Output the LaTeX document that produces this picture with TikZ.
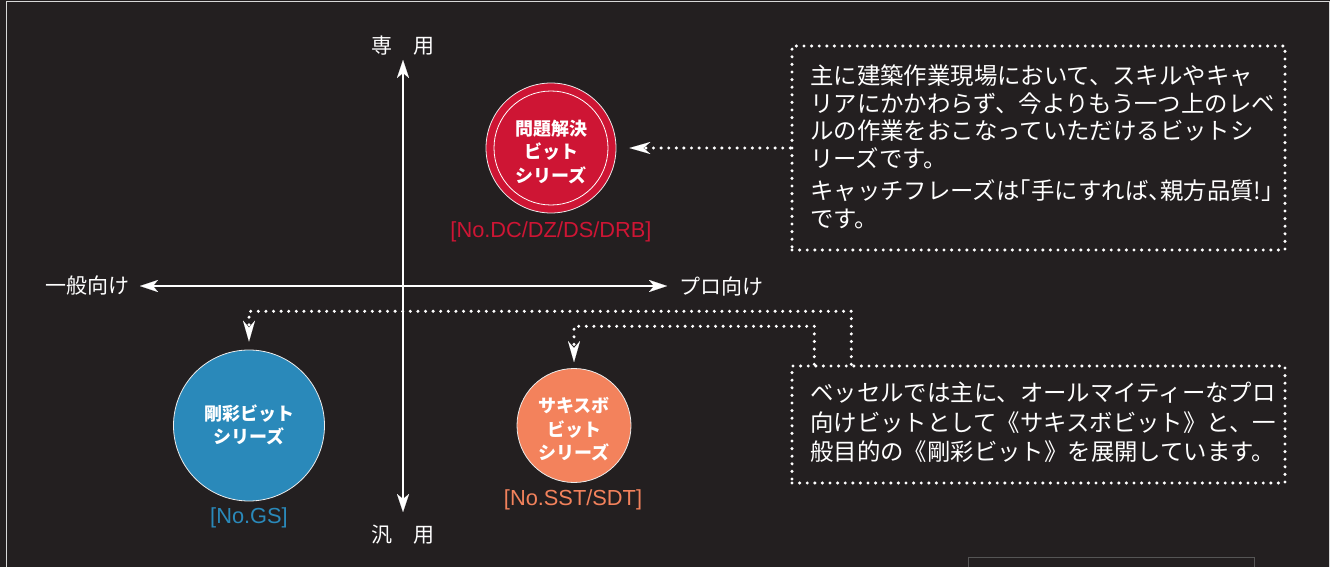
\documentclass[tikz,border=0pt]{standalone}
\usepackage{fontspec}
\setmainfont{Noto Sans CJK JP}
\newfontfamily\latf{Liberation Sans}
\usetikzlibrary{arrows.meta}
\definecolor{bg}{HTML}{231F20}
\definecolor{frame}{HTML}{D8D8D8}
\definecolor{rred}{HTML}{CE1534}
\definecolor{rblue}{HTML}{2A89BA}
\definecolor{rorange}{HTML}{F3825C}
\definecolor{boxgray}{HTML}{555555}
\newcommand{\hw}[1]{{\addfontfeatures{RawFeature=+halt}#1}}
\begin{document}
\begin{tikzpicture}[x=1pt,y=-1pt,
  dots/.style={draw=white, line width=3.4pt, line cap=round, dash pattern=on 0pt off 7.6pt},
  dotarrow/.style={dots, -{Stealth[length=21pt,width=12pt,inset=7pt,line width=0.1pt]}},
  axisline/.style={draw=white, line width=1.1pt, {Stealth[length=18pt,width=12pt,inset=5pt,line width=0.1pt]}-{Stealth[length=18pt,width=12pt,inset=5pt,line width=0.1pt]}},
  disc/.style={circle, inner sep=0pt, draw=white!85!gray, line width=0.8pt},
  disctext/.style={text=white, align=center, inner sep=0pt, font=\fontsize{18}{23.5}\selectfont\bfseries},
  code/.style={inner sep=0pt, font=\latf\fontsize{21.8}{24}\selectfont},
  axlabel/.style={text=white, inner sep=0pt, font=\fontsize{21}{24}\selectfont},
  notebox/.style={dots, rectangle, inner sep=0pt},
  notetext/.style={text=white, align=left, inner sep=0pt, anchor=west}
]
\useasboundingbox (0,0) rectangle (1330,567);
\fill[bg] (0,0) rectangle (1330,567);
\draw[frame, line width=1pt] (6,570) -- (6,2) -- (1329,2) -- (1329,570);
\draw[boxgray, line width=1pt] (968,557) rectangle (1254,580);

% axes
\coordinate (vtop) at (403,60);
\coordinate (vbot) at (403,512);
\coordinate (hl) at (140,286);
\coordinate (hr) at (667,286);
\draw[axisline] (vtop) -- (vbot);
\draw[axisline] (hl) -- (hr);
\node[axlabel] (ltop) at (403,46) {専　用};
\node[axlabel] (lbot) at (403,535) {汎　用};
\node[axlabel, anchor=east] (lleft) at (130,286) {一般向け};
\node[axlabel, anchor=west] (lright) at (679,286) {プロ向け};

% circles
\node[disc, fill=rred, minimum size=130pt] (red) at (551,148) {};
\node[circle, inner sep=0pt, draw=white, line width=0.8pt, minimum size=114pt] (redring) at (551,148) {};
\node[disctext] (redtxt) at (551,152) {問題解決\\ビット\\シリーズ};
\node[code, text=rred] (redlab) at (551,232) {[No.DC/DZ/DS/DRB]};

\node[disc, fill=rblue, minimum size=151pt] (blue) at (249,425.5) {};
\node[disctext] (bluetxt) at (249,425) {剛彩ビット\\シリーズ};
\node[code, text=rblue] (bluelab) at (249,518) {[No.GS]};

\node[disc, fill=rorange, minimum size=114pt] (orange) at (574,425.5) {};
\node[disctext] (orangetxt) at (574,429.5) {サキスボ\\ビット\\シリーズ};
\node[code, text=rorange] (orangelab) at (573,500) {[No.SST/SDT]};

% note boxes
\node[notebox, minimum width=493pt, minimum height=204pt] (b1) at (1038.5,148) {};
\node[notetext, font=\fontsize{23.4}{27.5}\selectfont] (t1) at (810,147)
  {主に建築作業現場において、スキルやキャ\\リアにかかわらず、今よりもう一つ上のレベ\\ルの作業をおこなっていただけるビットシ\\リーズです。\\[5pt]キャッチフレーズは\hw{「}手にすれば\hw{、}親方品質!\hw{」}\\です。};
\node[notebox, minimum width=493pt, minimum height=117pt] (b2) at (1038.5,424.5) {};
\node[notetext, font=\fontsize{23.4}{29.5}\selectfont] (t2) at (810,422.5)
  {ベッセルでは主に、オールマイティーなプロ\\向けビットとして《サキスボビット》と、一\\般目的の《剛彩ビット》を展開しています。};

% connectors
\draw[dotarrow, shorten >=13pt] (b1.west) -- (red.east);
\draw[dotarrow] ([xshift=61pt]b2.north west) -- ++(0,-53) -| ([yshift=8pt]blue.north);
\draw[dotarrow] ([xshift=24pt]b2.north west) -- ++(0,-38) -| ([yshift=6pt]orange.north);
\end{tikzpicture}
\end{document}
